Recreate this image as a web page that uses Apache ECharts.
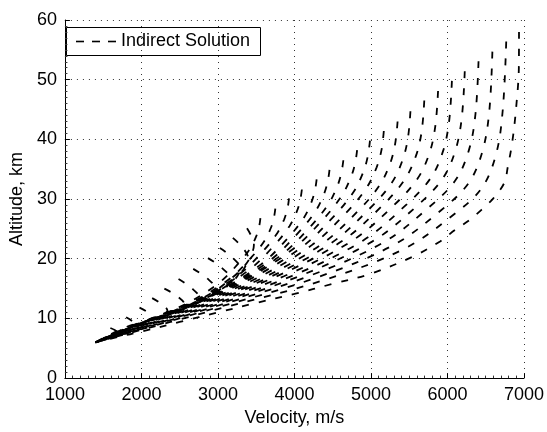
<!DOCTYPE html>
<html>
<head>
<meta charset="utf-8">
<script src="https://cdn.jsdelivr.net/npm/echarts@6/dist/echarts.min.js"></script>
<style>
  html, body { margin: 0; padding: 0; background: #ffffff; }
  #chart { width: 547px; height: 432px; }
</style>
</head>
<body>
<div id="chart"></div>
<script>
// Trajectory family: velocity (m/s) and altitude (km) samples, listed from the
// common point (1400 m/s, 6 km) out to the far end of each solution.
const trajVelocity = [
  [1400,1487,1560,1618,1652,1673,1683,1690,1652,1594],
  [1400,1555,1683,1786,1848,1884,1902,1915,1869,1800],
  [1400,1622,1807,1955,2044,2096,2122,2140,2074,1975],
  [1400,1682,1917,2105,2218,2284,2317,2340,2260,2140],
  [1400,1748,2038,2270,2409,2490,2531,2560,2456,2300],
  [1400,1810,2151,2424,2588,2683,2731,2765,2653,2485],
  [1400,1873,2267,2583,2772,2882,2938,2977,2857,2677],
  [1400,1931,2374,2728,2940,3064,3126,3170,3050,2870],
  [1400,1969,2442,2821,3049,3181,3248,3295,3187,3025],
  [1400,1999,2497,2896,3136,3275,3345,3395,3315,3195],
  [1400,2021,2539,2953,3201,3346,3418,3470,3434,3380],
  [1400,2047,2585,3016,3275,3426,3501,3538,3555],
  [1400,2105,2693,3163,3445,3609,3691,3731,3750],
  [1400,2159,2791,3297,3600,3777,3866,3909,3929],
  [1400,2209,2883,3423,3746,3935,4030,4075,4097],
  [1400,2267,2990,3568,3914,4117,4218,4267,4290],
  [1400,2317,3082,3694,4060,4275,4382,4434,4458],
  [1400,2372,3181,3829,4218,4445,4558,4613,4639],
  [1400,2426,3280,3964,4375,4614,4734,4792,4819],
  [1400,2476,3373,4090,4521,4772,4897,4958,4987],
  [1400,2530,3472,4226,4678,4942,5074,5138,5168],
  [1400,2584,3571,4361,4835,5111,5249,5316,5348],
  [1400,2635,3664,4487,4981,5269,5413,5483,5516],
  [1400,2689,3763,4623,5138,5439,5590,5663,5697],
  [1400,2743,3862,4758,5295,5608,5765,5841,5877],
  [1400,2797,3962,4894,5452,5779,5942,6021,6058],
  [1400,2848,4054,5020,5599,5936,6105,6187,6226],
  [1400,2902,4153,5155,5755,6106,6281,6366,6406],
  [1400,2956,4253,5290,5913,6276,6457,6546,6587],
  [1400,3010,4352,5426,6070,6446,6634,6722,6768],
  [1400,1700,2000,2500,3000,3500,4000,4500,5000,5555,5903,6097,6290,6462,6591,6742,6790,6830,6860,6885,6905,6922,6933,6935]
];
const trajAltitude = [
  [6,6.48,6.83,7.12,7.3,7.41,7.49,7.6,8.04,8.4],
  [6,6.9,7.56,8.1,8.43,8.64,8.79,9.0,9.66,10.2],
  [6,7.26,8.18,8.94,9.4,9.7,9.91,10.2,11.08,11.8],
  [6,7.59,8.76,9.71,10.29,10.66,10.93,11.3,12.46,13.4],
  [6,7.92,9.33,10.48,11.18,11.63,11.95,12.4,13.83,15.0],
  [6,8.6,9.8,11.11,11.91,12.42,12.79,13.3,15.12,16.6],
  [6,8.8,10.21,11.77,12.83,13.53,14.05,14.8,16.73,18.3],
  [6,9.0,10.69,12.54,13.88,14.79,15.49,16.5,18.48,20.1],
  [6,9.15,11.1,13.26,14.92,16.09,16.98,18.3,20.23,21.8],
  [6,9.25,11.41,13.85,15.86,17.31,18.43,20.1,21.97,23.5],
  [6,9.3,11.74,14.54,16.99,18.78,20.18,22.3,23.84,25.1],
  [6,9.55,12.45,15.98,19.31,21.81,23.78,25.34,26.8],
  [6,9.8,12.94,16.75,20.34,23.02,25.15,26.83,28.4],
  [6,10.05,13.47,17.57,21.42,24.32,26.61,28.41,30.1],
  [6,10.25,13.94,18.29,22.38,25.46,27.89,29.81,31.6],
  [6,10.5,14.46,19.1,23.47,26.75,29.34,31.39,33.3],
  [6,10.75,14.96,19.87,24.5,27.96,30.71,32.88,34.9],
  [6,10.95,15.46,20.64,25.52,29.18,32.08,34.37,36.5],
  [6,11.2,15.98,21.46,26.61,30.47,33.53,35.95,38.2],
  [6,11.35,16.28,21.89,27.19,31.18,34.43,37.13,39.8],
  [6,11.45,16.51,22.28,27.74,31.88,35.31,38.25,41.4],
  [6,11.55,16.69,22.5,28.05,32.27,35.9,39.23,43.0],
  [6,11.65,16.84,22.68,28.37,32.66,36.53,40.21,44.7],
  [6,11.75,17.02,22.97,28.76,33.22,37.31,41.36,46.5],
  [6,11.75,17.07,23.05,28.9,33.41,37.7,42.21,48.1],
  [6,11.75,17.09,23.03,28.93,33.48,38.03,42.99,49.8],
  [6,11.75,17.04,22.91,28.82,33.41,38.2,43.65,51.4],
  [6,11.75,16.92,22.68,28.58,33.18,38.24,44.25,53.1],
  [6,11.7,16.68,22.26,28.09,32.67,38.0,44.63,54.7],
  [6,11.6,16.29,21.6,27.29,31.81,37.45,44.83,56.4],
  [6,6.9,7.8,9.4,11.0,12.6,14.1,15.8,17.5,20.4,22.9,24.8,26.5,28.4,30.0,32.7,35.5,38.2,40.8,43.6,46.4,49.0,52.0,58.0]
];

const seriesName = 'Indirect Solution';
const xAxisTitle = 'Velocity, m/s';
const yAxisTitle = 'Altitude, km';
const FONT = '"Liberation Sans", Arial, Helvetica, sans-serif';

const chart = echarts.init(document.getElementById('chart'), null, { renderer: 'canvas' });

// Each path is drawn from its far (upper) end toward the common point,
// so the dash pattern starts at the upper end of every trajectory.
const series = trajVelocity.map((vs, i) => ({
  type: 'line',
  name: seriesName,
  data: vs.map((v, j) => [v, trajAltitude[i][j]]).reverse(),
  showSymbol: false,
  smooth: 0.35,
  silent: true,
  animation: false,
  lineStyle: { color: '#000', width: 1.8, type: [7, 10] },
  z: 3
}));

function axisCommon() {
  return {
    type: 'value',
    axisLine: { show: true, onZero: false, lineStyle: { color: '#000', width: 1 } },
    axisTick: { show: true, inside: true, length: 5, lineStyle: { color: '#000', width: 1 } },
    minorTick: { show: true, splitNumber: 10, length: 2.5, lineStyle: { color: '#333', width: 1 } },
    splitLine: { show: true, lineStyle: { color: '#333', width: 1, type: [1, 5] } },
    axisLabel: { color: '#000', fontSize: 18, fontFamily: FONT, formatter: v => String(v) },
    nameLocation: 'middle',
    nameTextStyle: { color: '#000', fontSize: 18, fontFamily: FONT }
  };
}

const option = {
  animation: false,
  backgroundColor: '#ffffff',
  grid: { left: 60, right: 22, top: 20, bottom: 45, containLabel: false },
  xAxis: Object.assign(axisCommon(), {
    min: 1000, max: 7000, interval: 1000,
    name: xAxisTitle, nameGap: 27
  }),
  yAxis: Object.assign(axisCommon(), {
    min: 0, max: 60, interval: 10,
    name: yAxisTitle, nameGap: 34
  }),
  series: series,
  graphic: [
    {
      type: 'group', left: 66, top: 27, z: 100,
      children: [
        { type: 'rect', shape: { x: 0.5, y: 0.5, width: 194, height: 28 },
          style: { fill: '#fff', stroke: '#000', lineWidth: 1 } },
        { type: 'line', shape: { x1: 10, y1: 14.5, x2: 51, y2: 14.5 },
          style: { stroke: '#000', lineWidth: 1.6, lineDash: [8, 8] } },
        { type: 'text', x: 55, y: 14.5,
          style: { text: seriesName, fill: '#000', fontSize: 18, fontFamily: FONT, verticalAlign: 'middle', align: 'left' } }
      ]
    }
  ]
};

chart.setOption(option);
</script>
</body>
</html>
